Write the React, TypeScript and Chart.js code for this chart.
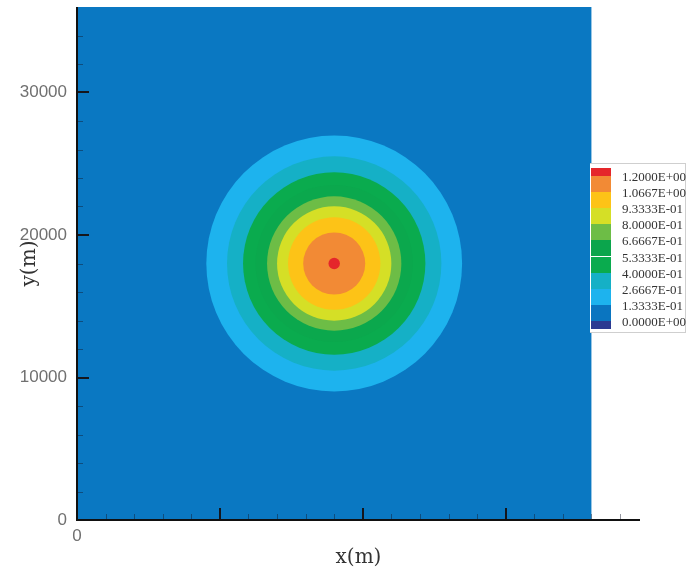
import React, { useEffect, useRef } from 'react';
import { Chart, registerables } from 'chart.js';

Chart.register(...registerables);

// ---- data ----
const levelLabels = [
  '1.2000E+00', '1.0667E+00', '9.3333E-01', '8.0000E-01', '6.6667E-01',
  '5.3333E-01', '4.0000E-01', '2.6667E-01', '1.3333E-01', '0.0000E+00',
];
const legendColors = [
  '#e5262b', '#f28a35', '#fdc317', '#d5df26', '#6dbd46',
  '#0ba54c', '#0aab4e', '#15b0c6', '#1db3ee', '#0a75c0', '#2c3a91',
];
// contour band outer radii (m), outermost first, and their fill colours
const ringRadii = [8950, 7500, 6380, 5500, 4700, 4000, 3230, 2170, 400];
const ringColors = [
  '#1db3ee', '#15b0c6', '#0aab4e', '#0ba84d', '#6dbd46',
  '#d5df26', '#fdc317', '#f28a35', '#e5262b',
];
const centerX = 18000;
const centerY = 18000;
const domainX = [0, 36000];
const domainY = [0, 36000];
const backgroundBand = '#0a78c2';
const majorStep = 10000;
const minorStep = 2000;
const xAxisMax = 39400;

const contourPlugin = {
  id: 'contourFrame',
  beforeDatasetsDraw(chart: any) {
    const { ctx, scales } = chart;
    const x = scales.x;
    const y = scales.y;
    const x0 = x.getPixelForValue(domainX[0]);
    const x1 = x.getPixelForValue(domainX[1]);
    const y0 = y.getPixelForValue(domainY[0]);
    const y1 = y.getPixelForValue(domainY[1]);
    ctx.save();
    ctx.fillStyle = backgroundBand;
    ctx.fillRect(x0, y1, x1 - x0, y0 - y1);
    ctx.restore();
  },
  afterDatasetsDraw(chart: any) {
    const { ctx, scales } = chart;
    const x = scales.x;
    const y = scales.y;
    const px0 = x.getPixelForValue(0);
    const py0 = y.getPixelForValue(0);
    ctx.save();
    // minor ticks
    ctx.strokeStyle = 'rgba(20,25,45,0.45)';
    ctx.lineWidth = 1;
    ctx.beginPath();
    for (let v = minorStep; v < xAxisMax; v += minorStep) {
      if (v % majorStep === 0) continue;
      const p = Math.round(x.getPixelForValue(v)) + 0.5;
      ctx.moveTo(p, py0);
      ctx.lineTo(p, py0 - 6);
    }
    for (let v = minorStep; v < domainY[1]; v += minorStep) {
      if (v % majorStep === 0) continue;
      const p = Math.round(y.getPixelForValue(v)) + 0.5;
      ctx.moveTo(px0, p);
      ctx.lineTo(px0 + 6, p);
    }
    ctx.stroke();
    // major ticks
    ctx.strokeStyle = '#15161c';
    ctx.lineWidth = 2;
    ctx.beginPath();
    for (let v = majorStep; v < xAxisMax; v += majorStep) {
      const p = Math.round(x.getPixelForValue(v));
      ctx.moveTo(p, py0);
      ctx.lineTo(p, py0 - 12);
    }
    for (let v = majorStep; v < domainY[1]; v += majorStep) {
      const p = Math.round(y.getPixelForValue(v));
      ctx.moveTo(px0, p);
      ctx.lineTo(px0 + 12, p);
    }
    ctx.stroke();
    // axis lines
    ctx.strokeStyle = '#111';
    ctx.lineWidth = 2;
    ctx.beginPath();
    ctx.moveTo(px0, y.getPixelForValue(domainY[1]));
    ctx.lineTo(px0, py0);
    ctx.lineTo(x.getPixelForValue(xAxisMax), py0);
    ctx.stroke();
    ctx.restore();
  },
};

export default function App() {
  const canvasRef = useRef<HTMLCanvasElement | null>(null);

  useEffect(() => {
    if (!canvasRef.current) return;
    const radiusFor = (c: any) => {
      if (c.type !== 'data') return 0;
      const s = c.chart.scales.x;
      return Math.abs(s.getPixelForValue(ringRadii[c.dataIndex]) - s.getPixelForValue(0));
    };
    const tickFont = { family: '"Liberation Sans", Arial, sans-serif', size: 17 };
    const titleFont = { family: '"DejaVu Serif", "Liberation Serif", serif', size: 20 };
    const chart = new Chart(canvasRef.current, {
      type: 'scatter',
      data: {
        datasets: [
          {
            data: ringRadii.map(() => ({ x: centerX, y: centerY })),
            pointRadius: radiusFor,
            pointHoverRadius: radiusFor,
            pointBackgroundColor: ringColors,
            pointBorderWidth: 0,
            pointHoverBorderWidth: 0,
            clip: false as any,
          },
        ],
      },
      options: {
        animation: false,
        responsive: false,
        devicePixelRatio: 1,
        events: [],
        layout: { padding: { top: 7, right: 51, left: 0, bottom: 0 } },
        plugins: { legend: { display: false }, tooltip: { enabled: false } },
        scales: {
          x: {
            type: 'linear',
            min: 0,
            max: xAxisMax,
            grid: { display: false, drawTicks: false },
            border: { display: false },
            ticks: {
              stepSize: minorStep,
              autoSkip: false,
              maxRotation: 0,
              padding: 6,
              color: '#707070',
              font: tickFont,
              callback: (v: any) => (Number(v) % majorStep === 0 && Number(v) <= domainX[1] ? String(v) : ''),
            },
            title: {
              display: true,
              text: 'x(m)',
              color: '#333',
              font: titleFont,
              padding: { top: 0, bottom: 6 },
            },
            afterFit: (s: any) => { s.height = 56; s.paddingLeft = 0; s.paddingRight = 0; },
          },
          y: {
            type: 'linear',
            min: domainY[0],
            max: domainY[1],
            grid: { display: false, drawTicks: false },
            border: { display: false },
            ticks: {
              stepSize: minorStep,
              autoSkip: false,
              padding: 10,
              color: '#707070',
              font: tickFont,
              callback: (v: any) => (Number(v) % majorStep === 0 ? String(v) : ''),
            },
            title: {
              display: true,
              text: 'y(m)',
              color: '#333',
              font: titleFont,
              padding: { top: 18, bottom: 0 },
            },
            afterFit: (s: any) => { s.width = 77; s.paddingTop = 0; s.paddingBottom = 0; },
          },
        },
      },
      plugins: [contourPlugin],
    } as any);
    return () => chart.destroy();
  }, []);

  const step = 16.1;
  const top0 = 12;
  return (
    <div style={{ position: 'absolute', left: 0, top: 0, width: 691, height: 576, background: '#fff' }}>
      <canvas ref={canvasRef} width={691} height={576} style={{ display: 'block' }} />
      <div
        style={{
          position: 'absolute', left: 590, top: 163, width: 96, height: 170,
          background: '#fff', borderTop: '1px solid #cfcfcf', borderRight: '1px solid #cfcfcf',
          borderBottom: '1px solid #cfcfcf', boxSizing: 'border-box',
        }}
      >
        {legendColors.map((c, i) => {
          const t = i === 0 ? 4 : top0 + (i - 1) * step;
          const h = i === 0 || i === legendColors.length - 1 ? 8 : step;
          return (
            <div key={'s' + i} style={{ position: 'absolute', left: 1, top: t, width: 20, height: h, background: c }} />
          );
        })}
        {levelLabels.map((l, i) => (
          <div
            key={'l' + i}
            style={{
              position: 'absolute', left: 32, top: top0 + i * step - 7, height: 16, lineHeight: '16px',
              fontFamily: '"Liberation Serif", "Times New Roman", serif', fontSize: 13, color: '#333', whiteSpace: 'nowrap',
            }}
          >
            {l}
          </div>
        ))}
      </div>
    </div>
  );
}
